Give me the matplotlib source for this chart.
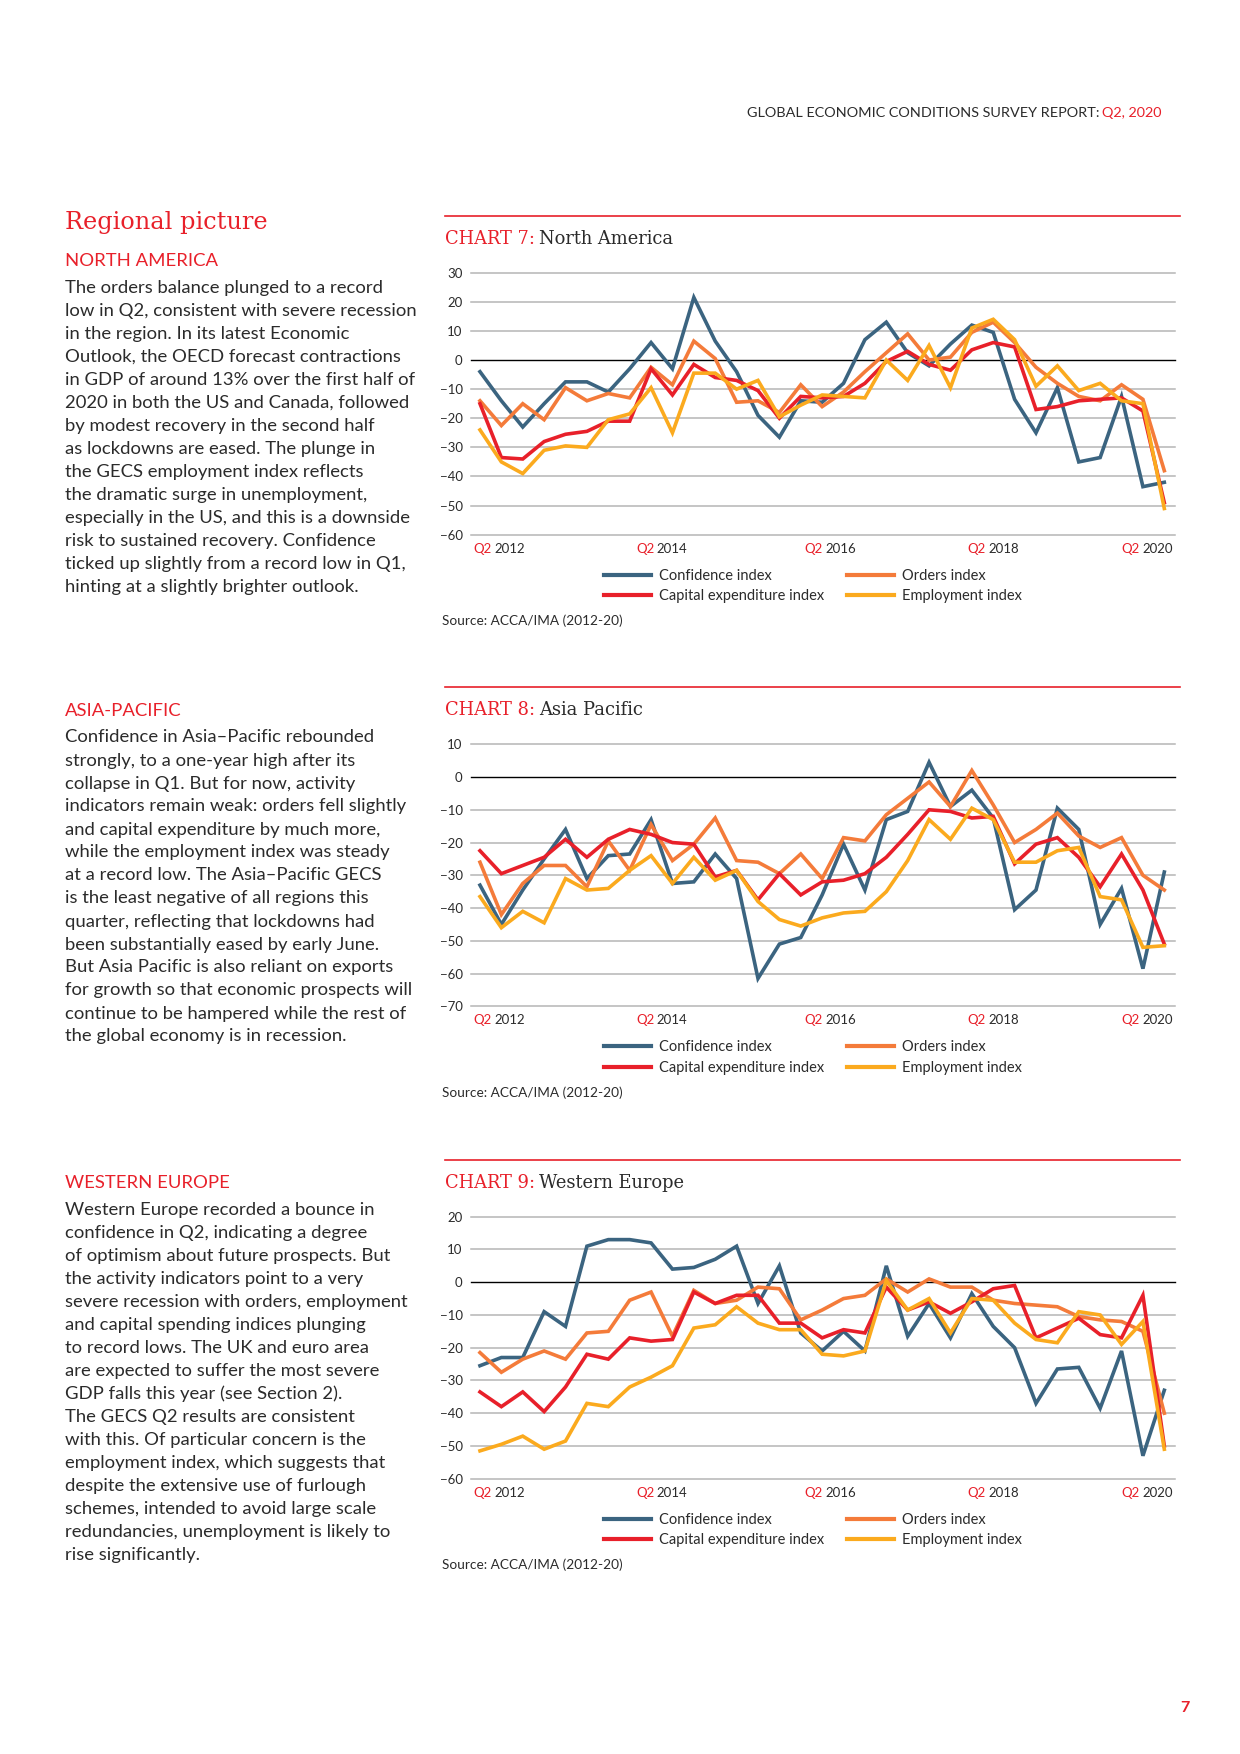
import matplotlib
matplotlib.use("Agg")
import matplotlib.pyplot as plt
from matplotlib.lines import Line2D

# quarters Q2 2012 .. Q2 2020 (33 points)
quarters = list(range(33))
tick_years = ["2012", "2014", "2016", "2018", "2020"]
tick_pos = [0.9, 8.5, 16.4, 24.0, 31.2]

na_conf = [-4, -14, -23, -15, -7.5, -7.5, -11, -3, 6, -3, 21.5, 6.5, -4, -19, -26.5, -14,
           -14.5, -8, 7, 13, 2.5, -2, 5.5, 12, 9.5, -13.5, -25, -9.5, -35, -33.5, -12.5, -43.5, -42]
na_capex = [-15, -33.5, -34, -28, -25.5, -24.5, -21, -21, -3, -12, -1.5, -6, -7, -10.5, -20, -12.5,
            -13, -12.5, -8, -0.5, 3, -1.5, -3.5, 3.5, 6, 4.5, -17, -16, -14, -13.5, -13, -17.5, -49]
na_orders = [-14, -22.5, -15, -20.5, -9.5, -14, -11.5, -13, -2.5, -8.5, 6.5, 0.5, -14.5, -14, -18, -8.5,
             -16, -11, -4, 2.5, 9, 0, 1, 9.5, 13, 6, -2.5, -8, -12.5, -14, -8.5, -13.5, -38]
na_emp = [-24, -35, -39, -31, -29.5, -30, -20.5, -18.5, -9.5, -25, -4.5, -4.5, -10, -7, -19.5, -15.5,
          -12, -12.5, -13, 0, -7, 5, -9.5, 11, 14, 7, -9, -2, -10.5, -8, -14, -15, -51]

ap_conf = [-33, -45, -34.5, -25, -16, -31, -24, -23.5, -13, -32.5, -32, -23.5, -31, -61.5, -51, -49,
           -36, -20.5, -34.5, -13, -10.5, 4.5, -9, -4, -12.5, -40.5, -34.5, -9.5, -16, -45, -34, -58.5, -29]
ap_capex = [-22.5, -29.5, -27, -24.5, -19, -24.5, -19, -16, -17.5, -20, -20.5, -30.5, -28.5, -37.5, -29.5, -36,
            -32, -31.5, -29.5, -24.5, -17.5, -10, -10.5, -12.5, -12, -26.5, -20.5, -18.5, -24.5, -33.5, -23.5, -34.5, -51]
ap_orders = [-26, -42, -32.5, -27, -27, -33.5, -19.5, -28.5, -14.5, -25.5, -20.5, -12.5, -25.5, -26, -29.5, -23.5,
             -31, -18.5, -19.5, -11.5, -6.5, -1.5, -9, 2, -8.5, -20, -16, -11, -18, -21.5, -18.5, -30, -34.5]
ap_emp = [-36.5, -46, -41, -44.5, -31, -34.5, -34, -28.5, -24, -32.5, -24.5, -31.5, -28.5, -38, -43.5, -45.5,
          -43, -41.5, -41, -35, -25.5, -13, -19, -9.5, -13, -26, -26, -22.5, -21.5, -36.5, -37.5, -52, -51.5]

we_conf = [-25.5, -23, -23, -9, -13.5, 11, 13, 13, 12, 4, 4.5, 7, 11, -6.5, 5, -15.5,
           -21, -15, -21, 5, -16.5, -6.5, -17, -3.5, -13.5, -20, -37, -26.5, -26, -38.5, -21, -53, -33]
we_capex = [-33.5, -38, -33.5, -39.5, -32, -22, -23.5, -17, -18, -17.5, -3, -6.5, -4, -4, -12.5, -12.5,
            -17, -14.5, -15.5, -1.5, -8.5, -6, -9.5, -6, -2, -1, -17, -14, -11, -16, -17, -4, -50]
we_orders = [-21.5, -27.5, -23.5, -21, -23.5, -15.5, -15, -5.5, -3, -16.5, -2.5, -6.5, -5.5, -1.5, -2, -11.5,
             -8.5, -5, -4, 1, -3, 1, -1.5, -1.5, -5.5, -6.5, -7, -7.5, -10.5, -11.5, -12, -15, -40]
we_emp = [-51.5, -49.5, -47, -51, -48.5, -37, -38, -32, -29, -25.5, -14, -13, -7.5, -12.5, -14.5, -14.5,
          -22, -22.5, -21, 0.5, -8.5, -5, -15.5, -5, -5.5, -12.5, -17.5, -18.5, -9, -10, -19, -12, -51]

series_names = ["Confidence index", "Capital expenditure index", "Orders index", "Employment index"]

na_text = """The orders balance plunged to a record
low in Q2, consistent with severe recession
in the region. In its latest Economic
Outlook, the OECD forecast contractions
in GDP of around 13% over the first half of
2020 in both the US and Canada, followed
by modest recovery in the second half
as lockdowns are eased. The plunge in
the GECS employment index reflects
the dramatic surge in unemployment,
especially in the US, and this is a downside
risk to sustained recovery. Confidence
ticked up slightly from a record low in Q1,
hinting at a slightly brighter outlook."""

ap_text = """Confidence in Asia\u2013Pacific rebounded
strongly, to a one-year high after its
collapse in Q1. But for now, activity
indicators remain weak: orders fell slightly
and capital expenditure by much more,
while the employment index was steady
at a record low. The Asia\u2013Pacific GECS
is the least negative of all regions this
quarter, reflecting that lockdowns had
been substantially eased by early June.
But Asia Pacific is also reliant on exports
for growth so that economic prospects will
continue to be hampered while the rest of
the global economy is in recession."""

we_text = """Western Europe recorded a bounce in
confidence in Q2, indicating a degree
of optimism about future prospects. But
the activity indicators point to a very
severe recession with orders, employment
and capital spending indices plunging
to record lows. The UK and euro area
are expected to suffer the most severe
GDP falls this year (see Section 2).
The GECS Q2 results are consistent
with this. Of particular concern is the
employment index, which suggests that
despite the extensive use of furlough
schemes, intended to avoid large scale
redundancies, unemployment is likely to
rise significantly."""

BLUE = "#3b6480"
ORANGE = "#f47b3a"
RED = "#e8202a"
YELLOW = "#fbaa1e"
GRID = "#b5b5b5"
INK = "#2b2b2b"
SANS = ["Lato", "DejaVu Sans"]
SERIF = ["DejaVu Serif"]

W, H = 1240, 1754
fig = plt.figure(figsize=(W / 100, H / 100), dpi=100)
renderer = fig.canvas.get_renderer()


def fy(y):
    return 1 - y / H


def rich(x, y, parts, size, family=SANS, ha="left", va="center", weight="normal"):
    # parts drawn one after the other, x/y in page pixels
    texts = []
    for s, c in parts:
        t = fig.text(0, fy(y), s, color=c, fontsize=size, family=family,
                     va=va, ha="left", weight=weight)
        texts.append(t)
    widths = [t.get_window_extent(renderer).width for t in texts]
    gap = size * 0.28
    total = sum(widths) + gap * (len(texts) - 1)
    if ha == "right":
        x0 = x - total
    elif ha == "center":
        x0 = x - total / 2
    else:
        x0 = x
    for t, w in zip(texts, widths):
        t.set_x(x0 / W)
        x0 += w + gap


# page header
rich(1162, 113, [("GLOBAL ECONOMIC CONDITIONS SURVEY REPORT:", INK), ("Q2, 2020", RED)],
     10.4, ha="right")
fig.text(65 / W, fy(223), "Regional picture", color=RED, fontsize=17.3, family=SERIF,
         va="center")
fig.text(1180 / W, fy(1708), "7", color=RED, fontsize=11.5, weight="bold", family=SANS,
         va="center")

LEFT, RIGHT, PH = 471, 1175, 262

charts = [
    ("7:", "North America", 272.7, (-60, 30), [na_conf, na_capex, na_orders, na_emp],
     "NORTH AMERICA", 261, na_text),
    ("8:", "Asia Pacific", 744.3, (-70, 10), [ap_conf, ap_capex, ap_orders, ap_emp],
     "ASIA-PACIFIC", 710.5, ap_text),
    ("9:", "Western Europe", 1216.7, (-60, 20), [we_conf, we_capex, we_orders, we_emp],
     "WESTERN EUROPE", 1183, we_text),
]

for num, name, top, (ymin, ymax), data, region, region_y, body in charts:
    # left column text
    fig.text(65 / W, fy(region_y), region, color=RED, fontsize=13.3, family=SANS, va="center")
    for i, line in enumerate(body.split("\n")):
        fig.text(65 / W, fy(region_y + 27 + 23 * i), line, color=INK, fontsize=13.3,
                 family=SANS, va="center")

    # red rule and title
    fig.add_artist(Line2D([445 / W, 1180 / W], [fy(top - 57), fy(top - 57)],
                          color=RED, lw=1.2))
    rich(445, top - 34, [("CHART " + num, RED), (name, INK)], 12.9, family=SERIF)

    ax = fig.add_axes([LEFT / W, fy(top + PH), (RIGHT - LEFT) / W, PH / H])
    ax.set_xlim(-0.42, 32.5)
    ax.set_ylim(ymin, ymax)
    for v in range(ymin, ymax + 1, 10):
        ax.axhline(v, color="black" if v == 0 else GRID, lw=1.0 if v == 0 else 1.1,
                   zorder=1, clip_on=False)
    conf, capex, orders, emp = data
    ax.plot(quarters, conf, color=BLUE, lw=2.6, zorder=3, solid_joinstyle="miter")
    ax.plot(quarters, orders, color=ORANGE, lw=2.6, zorder=3, solid_joinstyle="miter")
    ax.plot(quarters, capex, color=RED, lw=2.6, zorder=3, solid_joinstyle="miter")
    ax.plot(quarters, emp, color=YELLOW, lw=2.6, zorder=3, solid_joinstyle="miter")
    ax.set_yticks(range(ymin, ymax + 1, 10))
    ax.set_xticks([])
    ax.tick_params(axis="y", length=0, pad=6, labelsize=9.5, labelcolor=INK)
    for lab in ax.get_yticklabels():
        lab.set_family(SANS)
    for s in ax.spines.values():
        s.set_visible(False)

    bottom = top + PH
    for pos, yr in zip(tick_pos, tick_years):
        px = ax.transData.transform((pos, ymin))[0]
        rich(px, bottom + 14, [("Q2", RED), (yr, INK)], 9.5, ha="center")

    handles = [Line2D([], [], color=c, lw=3.0) for c in (BLUE, RED, ORANGE, YELLOW)]
    fig.legend(handles, series_names, ncol=2, loc="upper left",
               bbox_to_anchor=(604 / W, fy(bottom + 34)), frameon=False,
               prop={"family": SANS, "size": 10.5}, labelcolor=INK,
               handlelength=3.2, handletextpad=0.55, columnspacing=1.6,
               labelspacing=0.45, borderpad=0, borderaxespad=0)

    fig.text(442 / W, fy(bottom + 86), "Source: ACCA/IMA (2012-20)", color=INK,
             fontsize=9.8, family=SANS, va="center")

fig.savefig("out.png", dpi=100)
